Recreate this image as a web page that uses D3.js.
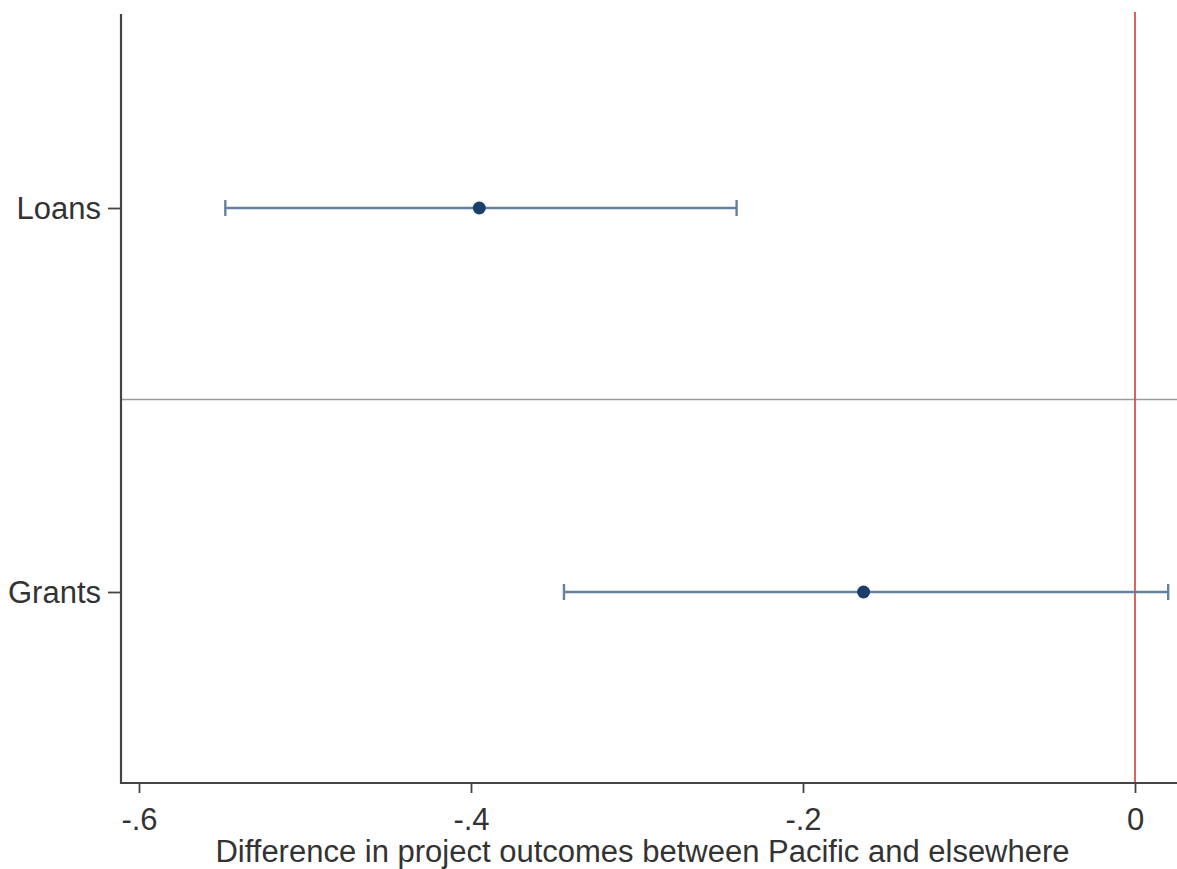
<!DOCTYPE html>
<html>
<head>
<meta charset="utf-8">
<script src="https://cdn.jsdelivr.net/npm/d3@7"></script>
<style>
  html, body { margin: 0; padding: 0; background: #fff; }
  svg { display: block; }
  text { font-family: "Liberation Sans", Arial, sans-serif; fill: #333; }
</style>
</head>
<body>
<script>
// Data
const categories = ["Loans", "Grants"];
const estimates = [-0.395, -0.1635];
const ciLower = [-0.548, -0.344];
const ciUpper = [-0.240, 0.020];
const xTicks = [-0.6, -0.4, -0.2, 0];
const xTickLabels = ["-.6", "-.4", "-.2", "0"];
const xTitle = "Difference in project outcomes between Pacific and elsewhere";

(function () {
const W = 1177, H = 869;
const svg = d3.select("body").append("svg").attr("width", W).attr("height", H);

const pLeft = 121, pRight = 1177, pTop = 14, pBottom = 783;
const x = d3.scaleLinear().domain([-0.6, 0]).range([139, 1135]);
const y = d3.scalePoint().domain(categories).range([208, 592]);

// Separator horizontal line
const ySep = (y("Loans") + y("Grants")) / 2 - 0.5;
svg.append("line")
  .attr("x1", pLeft).attr("x2", pRight)
  .attr("y1", ySep).attr("y2", ySep)
  .attr("stroke", "#9a9a9a").attr("stroke-width", 1.4);

// Red reference line at 0
svg.append("line")
  .attr("x1", x(0)).attr("x2", x(0))
  .attr("y1", 12).attr("y2", pBottom)
  .attr("stroke", "#d9534f").attr("stroke-width", 1.8);

// Error bars
const g = svg.append("g");
categories.forEach((c, i) => {
  const yy = y(c);
  g.append("line")
    .attr("x1", x(ciLower[i])).attr("x2", x(ciUpper[i]))
    .attr("y1", yy).attr("y2", yy)
    .attr("stroke", "#66819c").attr("stroke-width", 2.4);
  [ciLower[i], ciUpper[i]].forEach(v => {
    g.append("line")
      .attr("x1", x(v)).attr("x2", x(v))
      .attr("y1", yy - 8).attr("y2", yy + 8)
      .attr("stroke", "#66819c").attr("stroke-width", 2.4);
  });
  g.append("circle")
    .attr("cx", x(estimates[i])).attr("cy", yy)
    .attr("r", 6.5).attr("fill", "#1a3f6b");
});

// X axis
const xAxis = d3.axisBottom(x).tickValues(xTicks)
  .tickFormat((d, i) => xTickLabels[i]).tickSize(10).tickSizeOuter(0);
const gx = svg.append("g").attr("transform", `translate(0,${pBottom})`).call(xAxis);
gx.select(".domain").remove();
gx.selectAll(".tick line").attr("stroke", "#444").attr("stroke-width", 1.8);
gx.selectAll(".tick text").attr("font-size", 31).attr("dy", 0).attr("y", 47)
  .style("font-family", '"Liberation Sans", Arial, sans-serif').attr("fill", "#333");
svg.append("line").attr("x1", pLeft).attr("x2", pRight).attr("y1", pBottom).attr("y2", pBottom)
  .attr("stroke", "#444").attr("stroke-width", 2.2);

// Y axis
const yAxis = d3.axisLeft(y).tickSize(13).tickSizeOuter(0);
const gy = svg.append("g").attr("transform", `translate(${pLeft},0)`).call(yAxis);
gy.select(".domain").remove();
gy.selectAll(".tick line").attr("stroke", "#444").attr("stroke-width", 1.8);
gy.selectAll(".tick text").attr("font-size", 31).attr("x", -20).attr("dy", "0.35em")
  .style("font-family", '"Liberation Sans", Arial, sans-serif').attr("fill", "#333");
svg.append("line").attr("x1", pLeft).attr("x2", pLeft).attr("y1", pTop).attr("y2", pBottom + 1)
  .attr("stroke", "#444").attr("stroke-width", 2.2);

// X title
svg.append("text")
  .attr("x", (215 + 1070) / 2).attr("y", 862)
  .attr("text-anchor", "middle").attr("font-size", 31)
  .text(xTitle);
})();
</script>
</body>
</html>
